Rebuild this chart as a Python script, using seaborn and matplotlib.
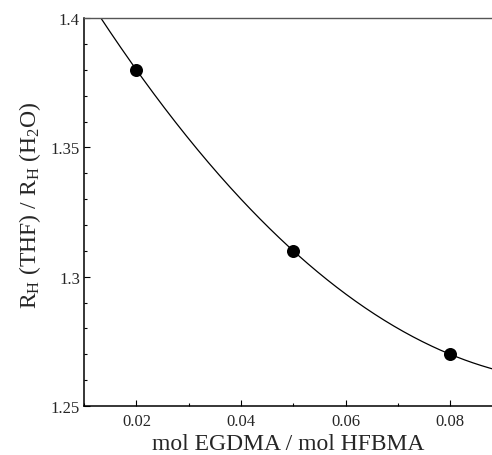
import numpy as np
import pandas as pd
import matplotlib
matplotlib.use("Agg")
import matplotlib.pyplot as plt
from matplotlib.ticker import MultipleLocator, FixedLocator, FixedFormatter
import seaborn as sns

# Crosslinker ratio vs. swelling ratio of hydrodynamic radii
crosslinker = [0.02, 0.05, 0.08]
rh_ratio = [1.38, 1.31, 1.27]

x_ticks = [0.02, 0.04, 0.06, 0.08]
x_labels = ["0.02", "0.04", "0.06", "0.08"]
y_ticks = [1.25, 1.3, 1.35, 1.4]
y_labels = ["1.25", "1.3", "1.35", "1.4"]

sns.set_style("ticks")
plt.rcParams["font.family"] = ["Liberation Serif", "DejaVu Serif"]
plt.rcParams["mathtext.fontset"] = "custom"
plt.rcParams["mathtext.rm"] = "Liberation Serif"
plt.rcParams["mathtext.it"] = "Liberation Serif:italic"

df = pd.DataFrame({"x": crosslinker, "y": rh_ratio})

# second-order fit through the measured points
coef = np.polyfit(df["x"], df["y"], 2)
xs = np.linspace(0.01, 0.088, 300)
fit = pd.DataFrame({"x": xs, "y": np.polyval(coef, xs)})

fig = plt.figure(figsize=(4.92, 4.56), dpi=100)
ax = fig.add_axes([0.171, 0.1075, 0.829, 0.8505])

sns.lineplot(data=fit, x="x", y="y", ax=ax, color="black", linewidth=0.9)
sns.scatterplot(data=df, x="x", y="y", ax=ax, color="black", s=88,
                edgecolor="black", linewidth=0, zorder=3)

ax.set_xlim(0.01, 0.088)
ax.set_ylim(1.25, 1.4)

ax.xaxis.set_major_locator(FixedLocator(x_ticks))
ax.xaxis.set_major_formatter(FixedFormatter(x_labels))
ax.yaxis.set_major_locator(FixedLocator(y_ticks))
ax.yaxis.set_major_formatter(FixedFormatter(y_labels))
ax.xaxis.set_minor_locator(MultipleLocator(0.01))
ax.yaxis.set_minor_locator(MultipleLocator(0.01))

ax.tick_params(which="both", direction="in", top=False, right=False,
               labelsize=12, color="black", width=0.8)
ax.tick_params(which="major", length=4.3)
ax.tick_params(which="minor", length=2.4)
ax.tick_params(axis="x", which="major", pad=5)
ax.tick_params(axis="y", which="major", pad=3)

for side in ["left", "bottom"]:
    ax.spines[side].set_color("black")
    ax.spines[side].set_linewidth(1.1)
ax.spines["top"].set_color("#555555")
ax.spines["top"].set_linewidth(1.0)
ax.spines["right"].set_visible(False)

ax.set_xlabel("mol EGDMA / mol HFBMA", fontsize=17)
ax.set_ylabel(r"R$_\mathregular{H}$ (THF) / R$_\mathregular{H}$ (H$_\mathregular{2}$O)",
              fontsize=17)
ax.xaxis.set_label_coords(0.5, -0.111)
ax.xaxis.label.set_verticalalignment("baseline")
ax.yaxis.set_label_coords(-0.10, 0.52)

fig.savefig("out.png", dpi=100)
